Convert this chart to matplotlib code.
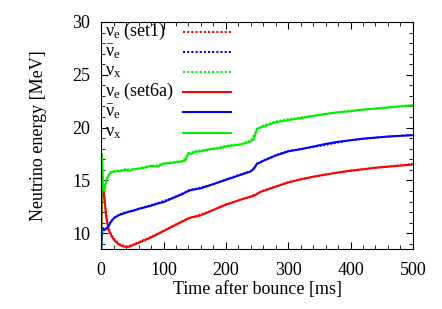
import matplotlib
matplotlib.use("Agg")
import matplotlib.pyplot as plt
from matplotlib.ticker import MultipleLocator

plt.rcParams["font.family"] = ["Liberation Serif", "DejaVu Serif"]
plt.rcParams["mathtext.fontset"] = "custom"
plt.rcParams["mathtext.rm"] = "Liberation Serif"
plt.rcParams["mathtext.it"] = "Liberation Serif"

# set6a (solid)
t = [0, 1, 2, 3, 5, 8, 12, 16, 20, 25, 30, 35, 40, 45, 50, 60, 70, 80, 90, 100,
     110, 120, 130, 135, 140, 145, 150, 160, 170, 180, 190, 200, 210, 220, 230, 240,
     245, 250, 255, 260, 270, 280, 290, 300, 320, 340, 360, 380, 400, 420, 440, 460,
     480, 500]
nue_6a = [10.5, 12.0, 14.5, 14.6, 13.5, 11.5, 10.3, 9.8, 9.4, 9.1, 8.9, 8.75, 8.7, 8.72,
          8.85, 9.1, 9.35, 9.6, 9.9, 10.2, 10.5, 10.8, 11.1, 11.25, 11.4, 11.5, 11.55,
          11.7, 11.95, 12.2, 12.45, 12.7, 12.9, 13.1, 13.3, 13.45, 13.55, 13.7, 13.9,
          14.0, 14.2, 14.4, 14.6, 14.8, 15.1, 15.35, 15.55, 15.75, 15.9, 16.05, 16.2,
          16.3, 16.4, 16.5]
nueb_6a = [8.5, 9.5, 10.5, 10.4, 10.3, 10.4, 10.7, 11.1, 11.4, 11.6, 11.75, 11.85, 11.95,
           12.05, 12.1, 12.3, 12.45, 12.6, 12.8, 12.95, 13.2, 13.45, 13.7, 13.85, 14.0,
           14.1, 14.15, 14.25, 14.45, 14.65, 14.85, 15.05, 15.25, 15.45, 15.65, 15.85,
           16.1, 16.6, 16.7, 16.85, 17.1, 17.35, 17.55, 17.75, 17.95, 18.2, 18.45, 18.65,
           18.8, 18.95, 19.05, 19.15, 19.22, 19.28]
nux_6a = [8.5, 17.5, 16.0, 14.2, 14.0, 15.0, 15.5, 15.75, 15.8, 15.9, 15.85, 15.95, 16.0,
          15.9, 16.05, 16.1, 16.2, 16.4, 16.3, 16.6, 16.65, 16.7, 16.8, 16.9, 17.6, 17.5,
          17.7, 17.75, 17.9, 18.0, 18.05, 18.2, 18.3, 18.35, 18.5, 18.7, 18.9, 19.9,
          20.0, 20.1, 20.3, 20.5, 20.6, 20.7, 20.9, 21.1, 21.3, 21.45, 21.55, 21.7, 21.8,
          21.9, 22.0, 22.1]

# set1 (dotted)
t1 = [0, 1, 2, 4, 6, 10, 15, 20, 30, 40, 50, 70, 90, 110, 130, 140, 150, 175, 200, 225,
      240, 250, 260, 280, 300, 350, 400, 450, 500]
nue_1 = [10.3, 12.5, 14.6, 14.0, 12.8, 10.9, 10.0, 9.5, 8.95, 8.75, 8.9, 9.4, 9.95, 10.55,
         11.15, 11.45, 11.6, 12.1, 12.75, 13.2, 13.5, 13.75, 14.05, 14.45, 14.85, 15.45,
         15.95, 16.25, 16.55]
nueb_1 = [8.6, 9.8, 10.6, 10.35, 10.4, 10.6, 11.05, 11.45, 11.8, 12.0, 12.15, 12.5, 12.85,
          13.25, 13.75, 14.05, 14.2, 14.55, 15.1, 15.6, 15.9, 16.5, 16.9, 17.4, 17.8,
          18.25, 18.8, 19.1, 19.3]
nux_1 = [8.6, 17.3, 15.8, 14.1, 14.6, 15.4, 15.8, 15.9, 15.95, 16.1, 16.0, 16.3, 16.45,
         16.7, 16.85, 17.5, 17.8, 17.95, 18.3, 18.45, 18.8, 19.8, 20.2, 20.6, 20.8, 21.2,
         21.6, 21.85, 22.15]

labels = [r"$\mathrm{\nu_e}$ (set1)", r"$\mathrm{\bar{\nu}_e}$", r"$\mathrm{\nu_x}$",
          r"$\mathrm{\nu_e}$ (set6a)", r"$\mathrm{\bar{\nu}_e}$", r"$\mathrm{\nu_x}$"]
colors = ["#ff0000", "#0000ff", "#00f000"]
fs = 13

fig = plt.figure(figsize=(4.42, 3.09), dpi=100)
ax = fig.add_axes([0.229, 0.194, 0.705, 0.735])

for y, c in zip([nue_1, nueb_1, nux_1], colors):
    ax.plot(t1, y, color=c, lw=1.3, ls=(0, (1, 1)))
for y, c in zip([nue_6a, nueb_6a, nux_6a], colors):
    ax.plot(t, y, color=c, lw=1.5)

# gnuplot-style key: text left, sample line right
rows = [0.956, 0.868, 0.780, 0.692, 0.604, 0.513]
styles = [(0, (1, 1))] * 3 + ["-"] * 3
for i, (lab, yy) in enumerate(zip(labels, rows)):
    ax.text(0.013, yy, lab, transform=ax.transAxes, fontsize=fs, va="center", ha="left")
    ax.plot([0.263, 0.417], [yy, yy], transform=ax.transAxes, color=colors[i % 3],
            lw=1.5, ls=styles[i])

ax.set_xlim(0, 500)
ax.set_ylim(8.5, 30)
ax.xaxis.set_major_locator(MultipleLocator(100))
ax.xaxis.set_minor_locator(MultipleLocator(20))
ax.yaxis.set_major_locator(MultipleLocator(5))
ax.yaxis.set_minor_locator(MultipleLocator(1))
ax.tick_params(which="both", direction="in", top=True, right=True, labelsize=fs)
ax.tick_params(which="major", length=5)
ax.tick_params(axis="x", which="major", pad=9)
ax.tick_params(axis="y", which="major", pad=8)
ax.tick_params(which="minor", length=3)
ax.set_xlabel("Time after bounce [ms]", fontsize=fs, labelpad=2)
ax.set_ylabel("Neutrino energy [MeV]", fontsize=fs, labelpad=18)

fig.savefig("out.png", dpi=100)
